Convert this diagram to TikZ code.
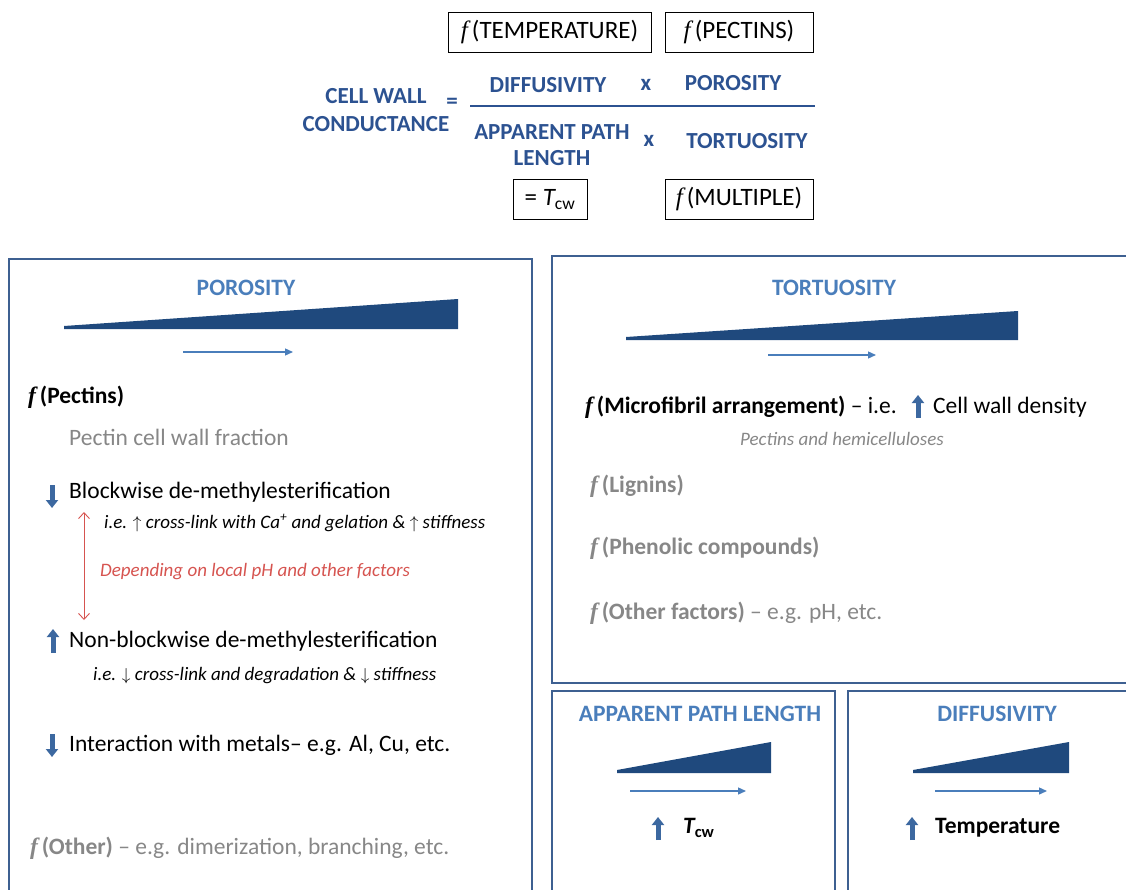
\documentclass[tikz,border=0pt]{standalone}
\usepackage{fontspec}
\setmainfont{Carlito}
\newfontfamily\fnfont{Liberation Serif}
\usetikzlibrary{arrows.meta}

\definecolor{panelbl}{RGB}{62,96,145}
\definecolor{headbl}{RGB}{74,126,187}
\definecolor{eqbl}{RGB}{44,82,145}
\definecolor{wedgebl}{RGB}{31,73,125}
\definecolor{arrbl}{RGB}{60,104,160}
\definecolor{softgray}{RGB}{135,135,135}
\definecolor{softred}{RGB}{214,84,80}

% italic f of the function boxes
\newcommand{\fn}{{\fnfont\itshape f}\,}
\newcommand{\fnb}{{\fnfont\bfseries\itshape f}\,}

\begin{document}
\begin{tikzpicture}[x=1pt,y=-1pt,
    panel/.style={draw=panelbl,line width=2.6pt},
    fnbox/.style={draw,line width=0.9pt,minimum height=40pt,inner sep=0pt,font=\fontsize{25}{28}\selectfont},
    eq/.style={text=eqbl,font=\fontsize{23}{27.5}\selectfont\bfseries,align=center,inner sep=0pt},
    head/.style={text=headbl,font=\fontsize{23.5}{26}\selectfont\bfseries,inner sep=0pt},
    item/.style={anchor=west,inner sep=0pt,font=\fontsize{23.5}{27}\selectfont},
    itemb/.style={item,font=\fontsize{23.5}{27}\selectfont\bfseries},
    note/.style={anchor=west,inner sep=0pt,font=\fontsize{19}{22}\selectfont\itshape},
    trend/.style={draw=headbl,line width=1.3pt,-{Triangle[length=8pt,width=7pt]}},
    bigarrow/.style={draw=arrbl,line width=5pt,-{Triangle[length=8pt,width=12pt]}}]
    \useasboundingbox (0,0) rectangle (1126,890);
    \clip (0,0) rectangle (1126,890);

    % conductance equation
    \node[fnbox,minimum width=203pt] (ftemp) at (549.5,32) {\fn(TEMPERATURE)};
    \node[fnbox,minimum width=148pt] (fpect) at (739,32) {\fn(PECTINS)};
    \node[eq] (cwc) at (376,110) {CELL WALL\\CONDUCTANCE};
    \node[eq] (equals) at (452,103) {=};
    \node[eq] (ediff) at (548,85) {DIFFUSIVITY};
    \node[eq] (etimes1) at (646,85) {x};
    \node[eq] (eporo) at (733,83) {POROSITY};
    \draw[eqbl,line width=1.4pt] (470,106) -- (815,106);
    \node[eq,font=\fontsize{23}{26}\selectfont\bfseries] (epath) at (552,145) {APPARENT PATH\\LENGTH};
    \node[eq] (etimes2) at (649,141) {x};
    \node[eq] (etort) at (747,141) {TORTUOSITY};
    \node[fnbox,minimum width=74pt] (ftcw) at (550,199.5) {= {\itshape T}\textsubscript{cw}};
    \node[fnbox,minimum width=148pt] (fmult) at (739,199.5) {\fn(MULTIPLE)};

    % panels
    \draw[panel] (9,259) rectangle (532,910);
    \draw[panel] (552,256) rectangle (1140,683);
    \draw[panel] (552,691) rectangle (835,910);
    \draw[panel] (848,691) rectangle (1140,910);

    % increasing wedges and trend arrows
    \foreach \xa/\xb/\yt/\yb in {64/458/299/329, 626/1018/311/340, 617/771/742/773, 913/1069/742/773}
        \fill[wedgebl] (\xa,\yb-3) -- (\xb,\yt) -- (\xb,\yb) -- (\xa,\yb) -- cycle;
    \foreach \xa/\xb/\y in {183/293/352, 768/876/355, 630/746/791, 935/1047/791}
        \draw[trend] (\xa,\y) -- (\xb,\y);

    % porosity panel
    \node[head] (hporo) at (246,288) {POROSITY};
    \node[itemb] (pect) at (28,397) {\fnb(Pectins)};
    \node[item,text=softgray] (frac) at (69,437) {Pectin cell wall fraction};
    \node[item] (block) at (69,492) {Blockwise de-methylesterification};
    \draw[bigarrow] (52,485) -- (52,508);
    \node[note] (blocknote) at (104,523) {i.e. $\uparrow$ cross-link with Ca\textsuperscript{+} and gelation \& $\uparrow$ stiffness};
    \draw[softred,line width=0.9pt,{Straight Barb[length=6pt,width=11pt]}-{Straight Barb[length=6pt,width=11pt]}] (84,512) -- (84,620);
    \node[note,text=softred] (ph) at (100,572) {Depending on local pH and other factors};
    \node[item] (nonblock) at (69,641) {Non-blockwise de-methylesterification};
    \draw[bigarrow] (53,653) -- (53,629);
    \node[note] (nonnote) at (93,676) {i.e. $\downarrow$ cross-link and degradation \& $\downarrow$ stiffness};
    \node[item] (metal) at (69,745) {Interaction with metals-- e.g. Al, Cu, etc.};
    \draw[bigarrow] (52,734) -- (52,757);
    \node[item,text=softgray] (otherp) at (30,848) {\textbf{\fnb(Other)} -- e.g. dimerization, branching, etc.};

    % tortuosity panel
    \node[head] (htort) at (834,288) {TORTUOSITY};
    \node[item] (micro) at (585,407) {\textbf{\fnb(Microfibril arrangement)} -- i.e.};
    \draw[bigarrow] (918,418) -- (918,395);
    \node[item] (dens) at (933,407) {Cell wall density};
    \node[note,anchor=center,text=softgray] (hemi) at (842,439) {Pectins and hemicelluloses};
    \node[itemb,text=softgray] (lign) at (590,486) {\fnb(Lignins)};
    \node[itemb,text=softgray] (phen) at (590,548) {\fnb(Phenolic compounds)};
    \node[item,text=softgray] (othert) at (590,613) {\textbf{\fnb(Other factors)} -- e.g. pH, etc.};

    % path length and diffusivity panels
    \node[head] (hpath) at (700,714) {APPARENT PATH LENGTH};
    \draw[bigarrow] (658,840) -- (658,817);
    \node[itemb] (tcw) at (683,828) {{\itshape T}\textsubscript{cw}};
    \node[head] (hdiff) at (997,714) {DIFFUSIVITY};
    \draw[bigarrow] (912,840) -- (912,817);
    \node[itemb] (temp) at (935,828) {Temperature};
\end{tikzpicture}
\end{document}
